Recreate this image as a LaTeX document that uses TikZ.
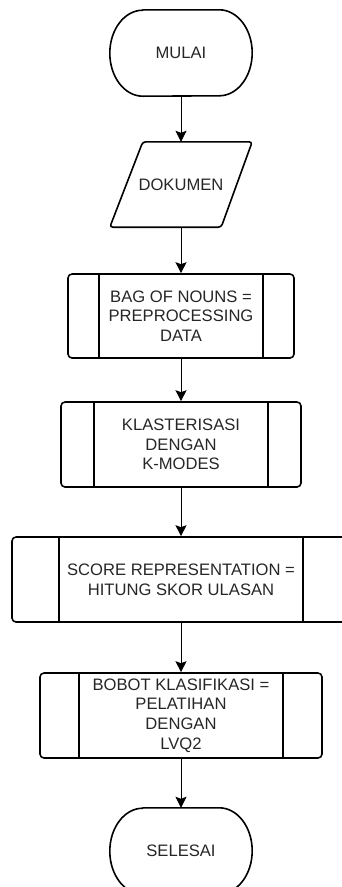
\documentclass[tikz,border=0pt]{standalone}
\usepackage{fontspec}
\setmainfont{Liberation Sans}
\usetikzlibrary{arrows.meta}
\definecolor{txt}{HTML}{262626}
\begin{document}
\begin{tikzpicture}[x=1pt,y=1pt,
  font=\fontsize{16.6}{19.7}\selectfont,
  every node/.style={text=txt, align=center, inner sep=0pt},
  outline/.style={line width=1.6pt, line join=round},
  subproc/.style={draw, outline, rounded corners=4pt, minimum height=85pt},
  term/.style={minimum width=142pt, minimum height=86pt},
  flow/.style={line width=0.9pt, -{Stealth[length=11pt,width=11pt,inset=2pt]}}]
  \useasboundingbox (0,0) rectangle (342,-887);
  \clip (0,0) rectangle (342,-887);

  % terminators
  \node[term] (start) at (181,-53) {MULAI};
  \node[term] (stop) at (181,-851) {SELESAI};
  \foreach \t in {start,stop}{
    \draw[outline] ([xshift=33pt]\t.north west) -- ([xshift=-33pt]\t.north east)
      arc[start angle=90,end angle=-90,x radius=33pt,y radius=43pt]
      -- ([xshift=33pt]\t.south west)
      arc[start angle=270,end angle=90,x radius=33pt,y radius=43pt] -- cycle;
  }

  % input
  \node[minimum width=142pt, minimum height=85pt] (doc) at (181,-184.5) {DOKUMEN};
  \draw[outline, rounded corners=3pt] ([xshift=33pt]doc.north west) -- (doc.north east)
    -- ([xshift=-31pt]doc.south east) -- (doc.south west) -- cycle;

  % predefined processes
  \node[subproc, minimum width=226pt, minimum height=84pt] (bag) at (181,-316)
    {BAG OF NOUNS =\\PREPROCESSING\\DATA};
  \node[subproc, minimum width=240pt] (klas) at (181,-444.5)
    {KLASTERISASI\\DENGAN\\K-MODES};
  \node[subproc, minimum width=338pt] (score) at (181,-579.5)
    {SCORE REPRESENTATION =\\HITUNG SKOR ULASAN};
  \node[subproc, minimum width=282pt] (bobot) at (181,-715.5)
    {BOBOT KLASIFIKASI =\\PELATIHAN\\DENGAN\\LVQ2};
  \foreach \n/\d in {bag/32,klas/34,score/48,bobot/40}{
    \draw[outline] ([xshift=\d pt]\n.north west) -- ([xshift=\d pt]\n.south west);
    \draw[outline] ([xshift=-\d pt]\n.north east) -- ([xshift=-\d pt]\n.south east);
  }

  % connectors
  \draw[flow] (start) -- (doc);
  \draw[flow] (doc) -- (bag);
  \draw[flow] (bag) -- (klas);
  \draw[flow] (klas) -- (score);
  \draw[flow] (score) -- (bobot);
  \draw[flow] (bobot) -- (stop);
\end{tikzpicture}
\end{document}
